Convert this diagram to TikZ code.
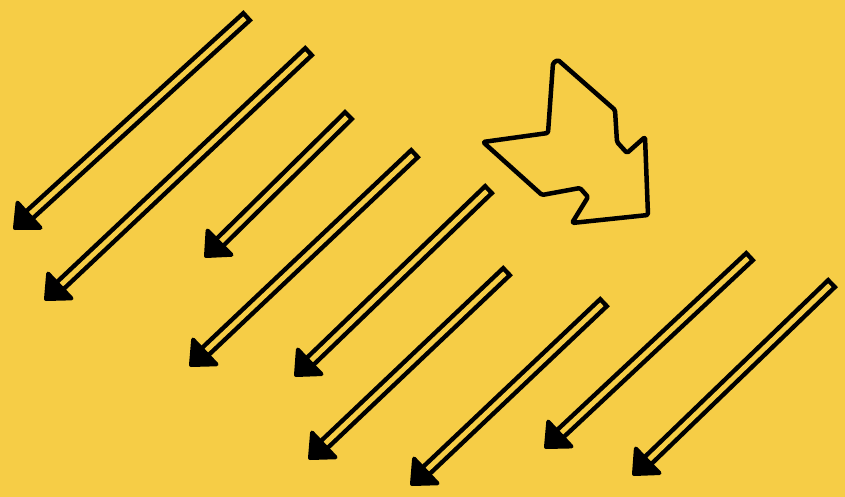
\documentclass[tikz,border=0pt]{standalone}
\usepackage{xcolor}
\usepackage{tikz}
\usetikzlibrary{calc}
\definecolor{paper}{RGB}{246,205,70}

\begin{document}
\begin{tikzpicture}[x=1pt,y=-1pt,
    shaft/.style={draw=black,line width=4.5pt,double=paper,double distance=5pt,line cap=rect},
    head/.style={fill=black,draw=black,line width=4pt,line join=round},
    bigarrow/.style={draw=black,line width=4.5pt,line join=round,rounded corners=1.5pt}]
    \fill[paper] (0,0) rectangle (845,497);
    \useasboundingbox (0,0) rectangle (845,497);

    % thin arrows, tail / tip
    \foreach \tx/\ty/\hx/\hy [count=\i] in {243/20/15/228, 305/55/46/299, 345/119/206/256,
        411/157/191/365, 485/193/296/375, 503/275/310/458, 600/306/412/484,
        746/260/546/447, 828/287/634/474}{
        \coordinate (t\i) at (\tx,\ty);
        \coordinate (h\i) at (\hx,\hy);
        \coordinate (b\i) at ($(h\i)!19pt!(t\i)$);
        \draw[shaft] (t\i) -- (b\i);
        \filldraw[head] (h\i) -- ($(b\i)!17pt!90:(t\i)$) -- ($(b\i)!17pt!-90:(t\i)$) -- cycle;
    }

    % the big outlined arrow
    \draw[bigarrow] (558,60)--(615,110)--(617,142)--(627,153)--(645,137)--(648,215)
        --(572,223)--(588,197)--(580,188)--(542,195)--(483,142)--(548,133)--(553,63)--cycle;
\end{tikzpicture}
\end{document}
